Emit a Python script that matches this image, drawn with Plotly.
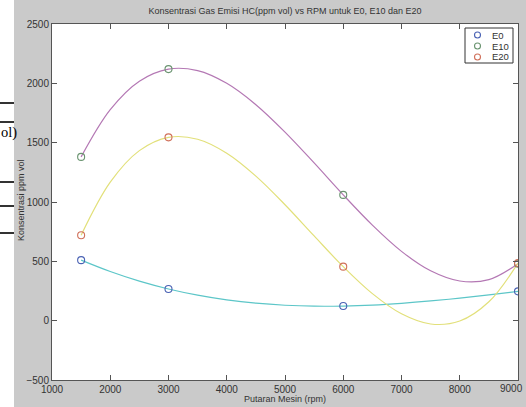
import plotly.graph_objects as go

# Measured points
rpm = [1500, 3000, 6000, 9000]
e0 = [510, 267, 123, 247]
e10 = [1380, 2120, 1060, 480]
e20 = [720, 1545, 455, 485]

# Fitted curves
curve_rpm = [1500, 2000, 2500, 3000, 3500, 4000, 4500, 5000, 5500, 6000,
             6500, 7000, 7500, 8000, 8500, 9000]
e0_curve = [510, 414, 333, 267, 215, 175, 147, 130, 122, 123, 131, 146, 166, 190, 217, 247]
e10_curve = [1380, 1778, 2018, 2120, 2107, 2000, 1820, 1589, 1329, 1060, 805, 584, 420, 334, 346, 480]
e20_curve = [720, 1167, 1433, 1545, 1529, 1411, 1218, 977, 714, 455, 228, 58, -28, -3, 159, 485]

series_names = ["E0", "E10", "E20"]
x_ticks = [1000, 2000, 3000, 4000, 5000, 6000, 7000, 8000, 9000]
y_ticks = [-500, 0, 500, 1000, 1500, 2000, 2500]

title_text = "Konsentrasi Gas Emisi HC(ppm vol) vs RPM untuk E0, E10 dan E20"
x_title = "Putaran Mesin (rpm)"
y_title = "Konsentrasi ppm vol"

FONT = "Liberation Sans, Arial, sans-serif"
W, H = 526, 407
L, R, T, B = 52, 518, 24, 380

marker_colors = ["#4a62b4", "#6a9470", "#d0705a"]
line_colors = ["#5cc6c8", "#b478b4", "#e2e07a"]

fig = go.Figure()
for ys, c in zip([e0_curve, e10_curve, e20_curve], line_colors):
    fig.add_trace(go.Scatter(x=curve_rpm, y=ys, mode="lines", showlegend=False,
                             line=dict(color=c, width=1.2, shape="spline", smoothing=1.0),
                             hoverinfo="skip"))
for ys, c, n in zip([e0, e10, e20], marker_colors, series_names):
    fig.add_trace(go.Scatter(x=rpm, y=ys, mode="markers", name=n, showlegend=False,
                             marker=dict(symbol="circle-open", size=7, color=c,
                                         line=dict(width=1.1, color=c))))

def px2x(px):
    return (px - L) / (R - L)

def py2y(py):
    return (B - py) / (B - T)

axis_common = dict(showgrid=False, zeroline=False, showline=True, linecolor="#555",
                   linewidth=1, mirror="allticks", ticks="inside", ticklen=5,
                   tickcolor="#555", ticklabeloverflow="allow",
                   tickfont=dict(family=FONT, size=10, color="#333"))

# last x label is drawn separately so it stays inside the window (as in the reference)
x_ticktext = [str(v) for v in x_ticks[:-1]] + [""]

shapes = [
    dict(type="rect", xref="paper", yref="paper", x0=px2x(0), x1=px2x(14),
         y0=py2y(H), y1=py2y(0), fillcolor="white", line=dict(width=0), layer="above"),
]
for yy in [103, 122, 182, 206, 233]:
    shapes.append(dict(type="line", xref="paper", yref="paper", x0=px2x(0), x1=px2x(14),
                       y0=py2y(yy), y1=py2y(yy), line=dict(color="black", width=1.6),
                       layer="above"))

# manual legend box (MATLAB style, compact)
shapes.append(dict(type="rect", xref="paper", yref="paper", x0=px2x(465), x1=px2x(513),
                   y0=py2y(63), y1=py2y(28), fillcolor="white",
                   line=dict(color="#333", width=1), layer="above"))

annotations = [
    dict(text="ol)", xref="paper", yref="paper", x=px2x(-1), y=py2y(132),
         xanchor="left", yanchor="middle", showarrow=False,
         font=dict(family="Liberation Serif, Times New Roman, serif", size=14.5, color="black")),
    dict(text=x_title, xref="paper", yref="paper", x=0.5, y=py2y(399),
         xanchor="center", yanchor="middle", showarrow=False,
         font=dict(family=FONT, size=9, color="#333")),
    dict(text=y_title, xref="paper", yref="paper", x=px2x(21), y=py2y(200), textangle=-90,
         xanchor="center", yanchor="middle", showarrow=False,
         font=dict(family=FONT, size=9, color="#333")),
    dict(text=str(x_ticks[-1]), xref="paper", yref="paper", x=px2x(525), y=py2y(388),
         xanchor="right", yanchor="middle", showarrow=False,
         font=dict(family=FONT, size=10, color="#333")),
]

for i, (n, c) in enumerate(zip(series_names, marker_colors)):
    yy = 35 + 11 * i
    shapes.append(dict(type="circle", xref="paper", yref="paper",
                       x0=px2x(474.5), x1=px2x(480.5), y0=py2y(yy + 3), y1=py2y(yy - 3),
                       line=dict(color=c, width=1.1), layer="above"))
    annotations.append(dict(text=n, xref="paper", yref="paper", x=px2x(490), y=py2y(yy),
                            xanchor="left", yanchor="middle", showarrow=False,
                            font=dict(family=FONT, size=9.5, color="#333")))

fig.update_layout(
    width=W, height=H,
    margin=dict(l=L, r=W - R, t=T, b=H - B, autoexpand=False),
    paper_bgcolor="#cacaca", plot_bgcolor="white",
    title=dict(text=title_text, x=(L + R) / 2 / W, xanchor="center",
               y=1 - 11 / H, yanchor="middle",
               font=dict(family=FONT, size=9, color="#333")),
    xaxis=dict(range=[1000, 9000], tickvals=x_ticks, ticktext=x_ticktext, **axis_common),
    yaxis=dict(range=[-500, 2500], tickvals=y_ticks, **axis_common),
    shapes=shapes, annotations=annotations,
    showlegend=False,
)

fig.write_html("out.html")
